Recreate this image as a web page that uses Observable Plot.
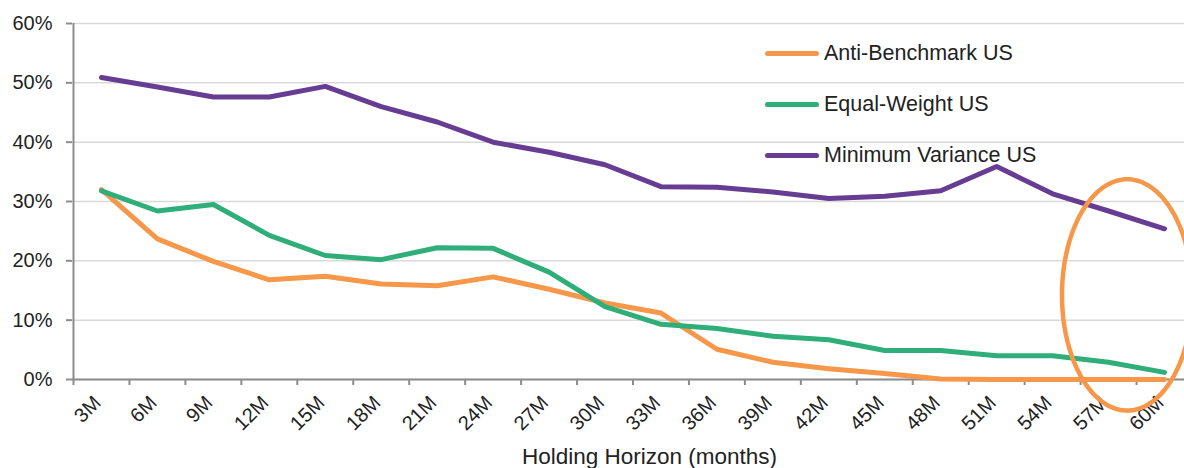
<!DOCTYPE html>
<html>
<head>
<meta charset="utf-8">
<script src="https://cdn.jsdelivr.net/npm/d3@7"></script>
<script src="https://cdn.jsdelivr.net/npm/@observablehq/plot@0.6"></script>
<style>
  html, body { margin: 0; padding: 0; background: #fff; }
  #wrap { position: relative; width: 1184px; height: 468px; overflow: hidden; font-family: "Liberation Sans", Arial, sans-serif; }
  #wrap g[aria-label="x-axis tick label"], #wrap g[aria-label="x-axis tick label"] text { font-size: 20px !important; }
  #legend { position: absolute; left: 765px; top: 28px; }
  .item { display: flex; align-items: center; height: 51px; line-height: 1; }
  .swatch { width: 54px; height: 4.5px; border-radius: 3px; margin-right: 5px; }
  .lab { font-size: 21.5px; color: #222; }
</style>
</head>
<body>
<div id="wrap"></div>
<script>
// ---- data ----
const horizons = ["3M","6M","9M","12M","15M","18M","21M","24M","27M","30M","33M","36M","39M","42M","45M","48M","51M","54M","57M","60M"];
const antiBenchmark = [32.0, 23.7, 19.9, 16.8, 17.4, 16.1, 15.8, 17.3, 15.2, 12.9, 11.2, 5.1, 2.9, 1.8, 1.0, 0.1, 0, 0, 0, 0];
const equalWeight   = [31.8, 28.4, 29.5, 24.3, 20.9, 20.2, 22.2, 22.1, 18.1, 12.3, 9.3, 8.6, 7.3, 6.7, 4.9, 4.9, 4.0, 4.0, 2.9, 1.2];
const minVariance   = [50.9, 49.3, 47.6, 47.6, 49.4, 46.0, 43.4, 40.0, 38.3, 36.2, 32.5, 32.4, 31.6, 30.5, 30.9, 31.8, 35.9, 31.3, 28.4, 25.4];
const seriesNames = ["Anti-Benchmark US", "Equal-Weight US", "Minimum Variance US"];
const seriesColors = ["#f7974a", "#2fae7a", "#663d93"];
const yTickValues = [0, 10, 20, 30, 40, 50, 60];
const xTitle = "Holding Horizon (months)";
// highlight ellipse annotation (centre and radii in data units)
const ellipseCenter = {months: 58, value: 14.25};
const ellipseRadius = {months: 3.5, value: 19.5};

// ---- build table ----
const months = horizons.map(h => parseInt(h));
const step = 3;
const rows = [];
[antiBenchmark, equalWeight, minVariance].forEach((arr, s) => {
  arr.forEach((v, i) => rows.push({series: seriesNames[s], m: months[i], v: v / 100}));
});
const boundaries = months.map(m => m - step / 2);
const ellipsePts = d3.range(0, 361, 4).map(a => ({
  m: ellipseCenter.months + ellipseRadius.months * Math.cos(a * Math.PI / 180),
  v: (ellipseCenter.value + ellipseRadius.value * Math.sin(a * Math.PI / 180)) / 100
}));
const yTicks = yTickValues.map(d => d / 100);
const axisGray = "#8c8c8c";

const chart = Plot.plot({
  width: 1184,
  height: 468,
  marginLeft: 72,
  marginRight: 0,
  marginTop: 23,
  marginBottom: 89,
  x: {type: "linear", domain: [months[0] - step / 2, months[months.length - 1] + step / 2], range: [73, 1192]},
  y: {domain: [0, 0.6]},
  style: {fontFamily: "'Liberation Sans', Arial, sans-serif", fontSize: "19px", color: "#222", background: "white", overflow: "hidden"},
  marks: [
    Plot.gridY(yTicks, {stroke: "#d9d9d9", strokeOpacity: 1, strokeWidth: 1.5}),
    Plot.axisY(yTicks, {tickFormat: d3.format(".0%"), tickSize: 6, tickPadding: 14, stroke: axisGray, strokeWidth: 2, label: null, fontSize: 20}),
    Plot.axisX(boundaries, {tickFormat: () => "", tickSize: 6, stroke: axisGray, strokeWidth: 2, label: null}),
    Plot.axisX(months, {tickFormat: d => d + "M", tickSize: 0, tickRotate: -45, tickPadding: 20, label: null, fontSize: 20, dx: -4}),
    Plot.ruleY([0], {stroke: axisGray, strokeWidth: 2}),
    Plot.ruleX([months[0] - step / 2], {stroke: axisGray, strokeWidth: 2}),
    Plot.line(rows, {x: "m", y: "v", z: "series", stroke: d => seriesColors[seriesNames.indexOf(d.series)],
      strokeWidth: 5, strokeLinejoin: "round", strokeLinecap: "round"}),
    Plot.line(ellipsePts, {x: "m", y: "v", stroke: seriesColors[0], strokeWidth: 4.5, curve: "linear-closed"}),
    Plot.text([xTitle], {frameAnchor: "bottom", dy: 84, dx: 21, fontSize: 22.5, fill: "#222"})
  ]
});

const wrap = document.getElementById("wrap");
wrap.appendChild(chart);
const legend = document.createElement("div");
legend.id = "legend";
seriesNames.forEach((n, i) => {
  const it = document.createElement("div");
  it.className = "item";
  it.innerHTML = `<div class="swatch" style="background:${seriesColors[i]}"></div><span class="lab">${n}</span>`;
  legend.appendChild(it);
});
wrap.appendChild(legend);
</script>
</body>
</html>
